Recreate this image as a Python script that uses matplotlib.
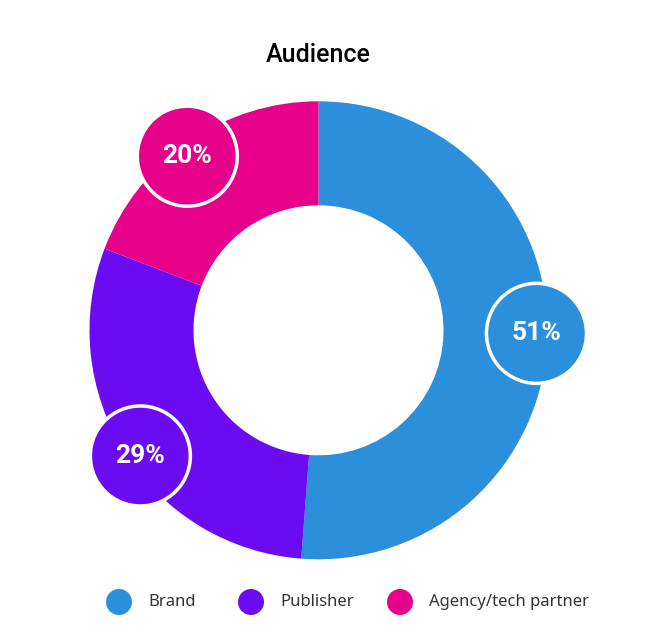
import matplotlib.pyplot as plt
from matplotlib.patches import Circle
import numpy as np

categories = ['Brand', 'Publisher', 'Agency/tech partner']
# slice shares as drawn, and the rounded percentages printed in the badges
shares = [51.2, 29.6, 19.2]
pct_labels = [51, 29, 20]
colors = ['#2B8FDB', '#6A0BF2', '#E6008A']
title = 'Audience'

plt.rcParams['font.family'] = ['Noto Sans', 'DejaVu Sans']
head_font = ['Roboto', 'DejaVu Sans']

fig = plt.figure(figsize=(6.52, 6.31), dpi=100)
ax = fig.add_axes([0, 0, 1, 1])

cx, cy = 318.5, 631 - 330.3
r_out, r_in = 229, 125

wedges, _ = ax.pie(shares, colors=colors, startangle=90, counterclock=False,
                   center=(cx, cy), radius=r_out,
                   wedgeprops=dict(width=r_out - r_in, linewidth=0))
ax.set_xlim(0, 652)
ax.set_ylim(0, 631)
ax.set_aspect('equal')
ax.axis('off')

# badges sit on the ring at the middle of each labelled share
start = 90.0
for v, c in zip(pct_labels, colors):
    span = v / sum(pct_labels) * 360
    mid = np.deg2rad(start - span / 2 + 1)
    start -= span
    bx = cx + 218 * np.cos(mid)
    by = cy + 218 * np.sin(mid)
    ax.add_patch(Circle((bx, by), 50, facecolor=c, edgecolor='white', lw=2.5, zorder=3))
    ax.text(bx, by, f'{v}%', ha='center', va='center', color='white',
            fontsize=19, fontweight='bold', family=head_font, zorder=4)

ax.text(cx, 631 - 55, title, ha='center', va='center', fontsize=18,
        fontweight='medium', family=head_font, color='black')

# legend
leg_x = [119, 251, 400]
leg_y = 631 - 602
for x, c, lab in zip(leg_x, colors, categories):
    ax.add_patch(Circle((x, leg_y), 13, facecolor=c, edgecolor='none'))
    ax.text(x + 29, leg_y, lab, ha='left', va='center', fontsize=12, color='#333333')

fig.savefig('out.png', dpi=100)
